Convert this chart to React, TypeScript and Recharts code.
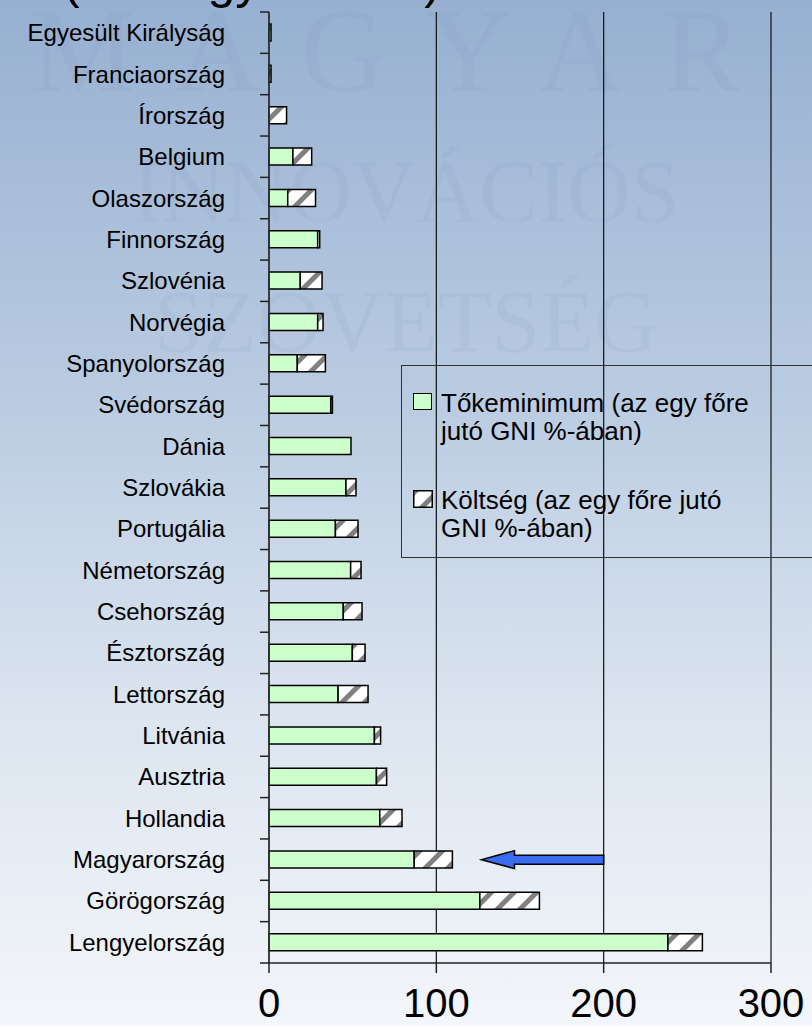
import { BarChart, Bar, XAxis, YAxis, CartesianGrid, Legend, ReferenceLine } from 'recharts';

const categories = [
  'Egyesült Királyság', 'Franciaország', 'Írország', 'Belgium', 'Olaszország', 'Finnország',
  'Szlovénia', 'Norvégia', 'Spanyolország', 'Svédország', 'Dánia', 'Szlovákia', 'Portugália',
  'Németország', 'Csehország', 'Észtország', 'Lettország', 'Litvánia', 'Ausztria', 'Hollandia',
  'Magyarország', 'Görögország', 'Lengyelország',
];
const tokeminimum = [0, 0, 0, 14.3, 11.2, 29.1, 18.7, 29.1, 16.9, 36.9, 49, 46, 39.7, 48.8, 44.4, 49.8, 41.3, 63, 64.2, 66.2, 86.8, 126, 238.4];
const koltseg = [1.2, 1.2, 10.5, 11.2, 16.6, 1.2, 13, 3.2, 16.8, 1, 0, 6, 13.5, 6.2, 11.2, 7.6, 17.9, 3.7, 6.1, 13.3, 22.8, 35.6, 20.6];
const xTicks = [0, 100, 200, 300];
const seriesNames = ['Tőkeminimum (az egy főre jutó GNI %-ában)', 'Költség (az egy főre jutó GNI %-ában)'];
const arrowFrom = 200;
const arrowTo = 127;

const data = categories.map((c, i) => ({ orszag: c, toke: tokeminimum[i], koltseg: koltseg[i] }));

const W = 812;
const H = 1026;
const TOP = 12;
const LEFT = 269;
const RIGHT = 41;
const XAXIS_H = 63;
const BAND = (H - TOP - XAXIS_H) / categories.length;
const FONT = '"Liberation Sans", Arial, sans-serif';

function CountryTick(props: any) {
  const { y, payload, index } = props;
  return (
    <g>
      <text x={225} y={y} textAnchor="end" dominantBaseline="central" fontSize={24} fontFamily={FONT} fill="#000">
        {payload.value}
      </text>
      {index === 0 && <line x1={LEFT - 9} x2={LEFT} y1={y - BAND / 2} y2={y - BAND / 2} stroke="#222" strokeWidth={1.5} />}
      <line x1={LEFT - 9} x2={LEFT} y1={y + BAND / 2} y2={y + BAND / 2} stroke="#222" strokeWidth={1.5} />
    </g>
  );
}

function Arrow(props: any) {
  const { x1, y1, x2 } = props;
  const head = 33;
  const pts = [
    [x1, y1 - 4.5], [x2 + head, y1 - 4.5], [x2 + head, y1 - 9], [x2, y1],
    [x2 + head, y1 + 9], [x2 + head, y1 + 4.5], [x1, y1 + 4.5],
  ].map((p) => p.join(',')).join(' ');
  return <polygon points={pts} fill="#3a6cf0" stroke="#000" strokeWidth={1.5} />;
}

function LegendBox() {
  const text = { position: 'absolute' as const, left: 39, width: 330, fontSize: 26, lineHeight: '28px', fontFamily: FONT, color: '#000' };
  return (
    <div style={{ position: 'relative', width: '100%', height: '100%' }}>
      <div style={{ position: 'absolute', left: 11, top: 27, width: 17, height: 15, background: '#ccffcc', border: '1.5px solid #000' }} />
      <div style={{ ...text, top: 23 }}>{seriesNames[0]}</div>
      <svg style={{ position: 'absolute', left: 11, top: 124 }} width={20} height={18}>
        <rect x={0.75} y={0.75} width={18.5} height={16.5} fill="url(#hatch)" stroke="#000" strokeWidth={1.5} />
      </svg>
      <div style={{ ...text, top: 120 }}>{seriesNames[1]}</div>
    </div>
  );
}

export default function App() {
  return (
    <div
      style={{
        position: 'absolute', left: 0, top: 0, width: W, height: H, overflow: 'hidden',
        background: 'linear-gradient(to bottom, #97b0d1 0%, #b9cbe1 38%, #dce5f0 70%, #f3f6fa 100%)',
      }}
    >
      <div style={{ position: 'absolute', left: 0, top: 0, width: W, fontFamily: '"Liberation Serif", serif', color: 'rgba(70,100,150,0.05)', textAlign: 'center' }}>
        <div style={{ fontSize: 118, letterSpacing: 40, lineHeight: '120px', marginTop: -8 }}>MAGYAR</div>
        <div style={{ fontSize: 88, lineHeight: '140px', marginTop: 10 }}>INNOVÁCIÓS</div>
        <div style={{ fontSize: 88, lineHeight: '120px' }}>SZÖVETSÉG</div>
      </div>
      <svg style={{ position: 'absolute', left: 0, top: 0 }} width={W} height={20}>
        <text x={63} y={-2} fontSize={50} fontFamily={FONT} fill="#000">(Ez nagy eltérés)</text>
      </svg>
      <BarChart
        width={W}
        height={H}
        data={data}
        layout="vertical"
        margin={{ top: TOP, right: RIGHT, left: 0, bottom: 0 }}
        barSize={17}
      >
        <defs>
          <pattern id="hatch" width={16} height={16} patternUnits="userSpaceOnUse" patternTransform="rotate(45)">
            <rect width={16} height={16} fill="#ffffff" />
            <rect x={0} width={5} height={16} fill="#808080" />
          </pattern>
        </defs>
        <CartesianGrid horizontal={false} stroke="#111" strokeWidth={1.2} />
        <XAxis
          type="number"
          domain={[0, 300]}
          ticks={xTicks}
          height={XAXIS_H}
          tickSize={10}
          tickMargin={16}
          axisLine={{ stroke: '#222', strokeWidth: 1.5 }}
          tickLine={{ stroke: '#222', strokeWidth: 1.5 }}
          tick={{ fontSize: 40, fontFamily: FONT, fill: '#000' }}
        />
        <YAxis
          type="category"
          dataKey="orszag"
          width={LEFT}
          interval={0}
          tickLine={false}
          axisLine={{ stroke: '#333', strokeWidth: 1.5 }}
          tick={<CountryTick />}
        />
        <Legend
          layout="vertical"
          align="center"
          verticalAlign="middle"
          content={() => <LegendBox />}
          wrapperStyle={{ left: 401, top: 365, width: 430, height: 193, border: '1.5px solid #333', boxSizing: 'border-box' }}
        />
        <Bar dataKey="toke" name={seriesNames[0]} stackId="a" fill="#ccffcc" stroke="#000" strokeWidth={1.5} isAnimationActive={false} />
        <Bar dataKey="koltseg" name={seriesNames[1]} stackId="a" fill="url(#hatch)" stroke="#000" strokeWidth={1.5} isAnimationActive={false} />
        <ReferenceLine
          segment={[{ x: arrowFrom, y: 'Magyarország' }, { x: arrowTo, y: 'Magyarország' }]}
          shape={<Arrow />}
          ifOverflow="visible"
        />
      </BarChart>
    </div>
  );
}
